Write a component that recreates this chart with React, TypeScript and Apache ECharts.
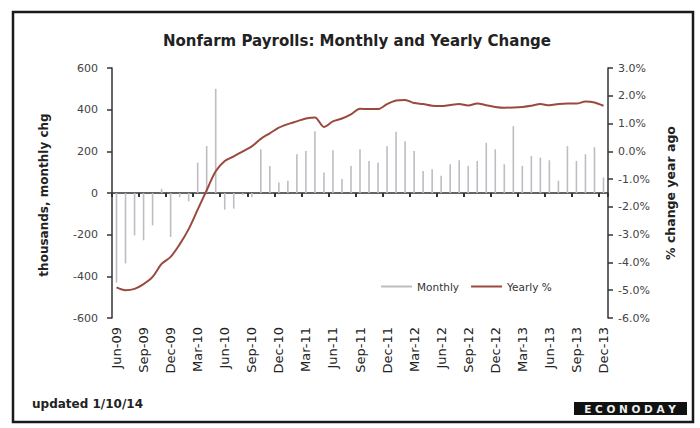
import React, { useEffect, useRef } from "react";
import * as echarts from "echarts";

const categories = [
  "Jun-09", "Jul-09", "Aug-09", "Sep-09", "Oct-09", "Nov-09", "Dec-09",
  "Jan-10", "Feb-10", "Mar-10", "Apr-10", "May-10", "Jun-10", "Jul-10", "Aug-10", "Sep-10", "Oct-10", "Nov-10", "Dec-10",
  "Jan-11", "Feb-11", "Mar-11", "Apr-11", "May-11", "Jun-11", "Jul-11", "Aug-11", "Sep-11", "Oct-11", "Nov-11", "Dec-11",
  "Jan-12", "Feb-12", "Mar-12", "Apr-12", "May-12", "Jun-12", "Jul-12", "Aug-12", "Sep-12", "Oct-12", "Nov-12", "Dec-12",
  "Jan-13", "Feb-13", "Mar-13", "Apr-13", "May-13", "Jun-13", "Jul-13", "Aug-13", "Sep-13", "Oct-13", "Nov-13", "Dec-13",
];

const monthly = [
  -430, -338, -203, -227, -155, 20, -211,
  -20, -40, 146, 225, 500, -80, -75, -10, -20, 210, 130, 51,
  59, 186, 202, 297, 98, 205, 67, 130, 210, 154, 146, 225,
  294, 249, 202, 106, 114, 83, 138, 157, 130, 154, 241, 210,
  138, 321, 130, 178, 170, 157, 59, 225, 154, 186, 220, 74,
];

const yearlyPct = [
  -4.9, -5.0, -4.95, -4.78, -4.52, -4.05, -3.8,
  -3.35, -2.8, -2.1, -1.4, -0.72, -0.35, -0.18, 0.0, 0.18, 0.45, 0.65, 0.85,
  0.98, 1.08, 1.18, 1.22, 0.88, 1.08, 1.18, 1.33, 1.53, 1.52, 1.52, 1.7,
  1.83, 1.85, 1.74, 1.7, 1.64, 1.63, 1.67, 1.7, 1.65, 1.72, 1.66, 1.6,
  1.57, 1.58, 1.6, 1.64, 1.7, 1.66, 1.7, 1.72, 1.72, 1.79, 1.76, 1.64,
];

const titleText = "Nonfarm Payrolls: Monthly and Yearly Change";
const leftAxisName = "thousands, monthly chg";
const rightAxisName = "% change year ago";
const updatedText = "updated 1/10/14";
const logoText = "E C O N O D A Y";

const FONT = "'DejaVu Sans', Verdana, sans-serif";

export default function App() {
  const ref = useRef<HTMLDivElement>(null);

  useEffect(() => {
    if (!ref.current) return;
    const chart = echarts.init(ref.current, null, { renderer: "svg" });
    const axisColor = "#333";
    chart.setOption({
      animation: false,
      backgroundColor: "#fff",
      textStyle: { fontFamily: FONT },
      grid: { left: 112, right: 92, top: 68, bottom: 110 },
      legend: {
        data: ["Monthly", "Yearly %"],
        left: 376,
        top: 276,
        icon: "rect",
        itemWidth: 31,
        itemHeight: 2,
        itemGap: 12,
        textStyle: { fontSize: 10.5, color: "#333", fontFamily: FONT },
      },
      xAxis: [
        {
          type: "category",
          data: categories,
          boundaryGap: true,
          position: "bottom",
          axisLine: { show: false, onZero: false },
          axisTick: { show: false },
          axisLabel: {
            rotate: 90,
            interval: 2,
            fontSize: 13,
            margin: 9,
            color: "#222",
            fontFamily: FONT,
          },
          splitLine: { show: false },
        },
        {
          type: "category",
          data: categories,
          boundaryGap: true,
          position: "bottom",
          axisLine: { show: true, onZero: true, onZeroAxisIndex: 0, lineStyle: { color: axisColor, width: 1.5 } },
          axisTick: { show: true, interval: 2, length: 4, lineStyle: { color: axisColor, width: 2 } },
          axisLabel: { show: false },
          splitLine: { show: false },
        },
      ],
      yAxis: [
        {
          type: "value",
          min: -600,
          max: 600,
          interval: 200,
          position: "left",
          axisLine: { show: true, onZero: false, lineStyle: { color: axisColor, width: 1.5 } },
          axisTick: { show: true, length: 5, lineStyle: { color: axisColor, width: 1.5 } },
          axisLabel: { fontSize: 11, color: "#444", margin: 14, fontFamily: FONT },
          splitLine: { show: false },
        },
        {
          type: "value",
          min: -6,
          max: 3,
          interval: 1,
          position: "right",
          axisLine: { show: true, onZero: false, lineStyle: { color: axisColor, width: 1.5 } },
          axisTick: { show: true, length: 5, lineStyle: { color: axisColor, width: 1.5 } },
          axisLabel: {
            fontSize: 11,
            color: "#444",
            margin: 10,
            fontFamily: FONT,
            formatter: (v: number) => v.toFixed(1) + "%",
          },
          splitLine: { show: false },
        },
      ],
      series: [
        {
          name: "Monthly",
          type: "bar",
          data: monthly,
          xAxisIndex: 0,
          yAxisIndex: 0,
          barWidth: 1.6,
          itemStyle: { color: "#bdbdc3" },
          z: 1,
        },
        {
          name: "Yearly %",
          type: "line",
          data: yearlyPct,
          xAxisIndex: 0,
          yAxisIndex: 1,
          showSymbol: false,
          symbol: "none",
          smooth: 0.3,
          lineStyle: { color: "#9a4a3c", width: 2 },
          itemStyle: { color: "#9a4a3c" },
          z: 3,
        },
      ],
      graphic: [
        {
          type: "rect",
          shape: { x: 13, y: 12, width: 680, height: 410 },
          style: { fill: "none", stroke: "#1a1a1a", lineWidth: 2.5 },
          z: 10,
        },
        {
          type: "text",
          x: 357,
          y: 41,
          style: {
            text: titleText,
            align: "center",
            verticalAlign: "middle",
            fontSize: 15,
            fontWeight: "bold",
            fill: "#222",
            fontFamily: FONT,
          },
        },
        {
          type: "text",
          x: 44,
          y: 195,
          rotation: Math.PI / 2,
          style: {
            text: leftAxisName,
            align: "center",
            verticalAlign: "middle",
            fontSize: 12,
            fontWeight: "bold",
            fill: "#222",
            fontFamily: FONT,
          },
        },
        {
          type: "text",
          x: 670,
          y: 193,
          rotation: Math.PI / 2,
          style: {
            text: rightAxisName,
            align: "center",
            verticalAlign: "middle",
            fontSize: 12.5,
            fontWeight: "bold",
            fill: "#222",
            fontFamily: FONT,
          },
        },
        {
          type: "text",
          x: 32,
          y: 404,
          style: {
            text: updatedText,
            align: "left",
            verticalAlign: "middle",
            fontSize: 12,
            fontWeight: "bold",
            fill: "#222",
            fontFamily: FONT,
          },
        },
        {
          type: "rect",
          shape: { x: 574, y: 402, width: 113, height: 13 },
          style: { fill: "#111" },
        },
        {
          type: "text",
          x: 630,
          y: 408.5,
          style: {
            text: logoText,
            align: "center",
            verticalAlign: "middle",
            fontSize: 10.5,
            fontWeight: "bold",
            fill: "#eee",
            fontFamily: FONT,
          },
        },
      ],
    });
    return () => chart.dispose();
  }, []);

  return (
    <div
      ref={ref}
      style={{ position: "fixed", left: 0, top: 0, width: 700, height: 428 }}
    />
  );
}
